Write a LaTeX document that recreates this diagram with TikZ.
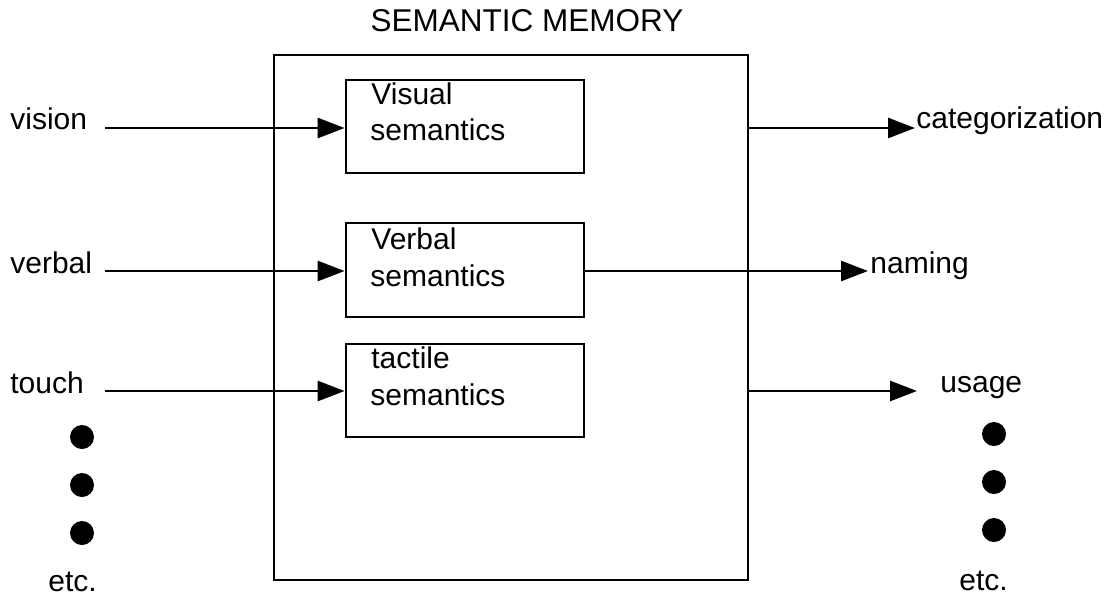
\documentclass[tikz,border=0pt]{standalone}
\usepackage{fontspec}
\setmainfont{Liberation Sans}
\usetikzlibrary{arrows.meta}
\begin{document}
\begin{tikzpicture}[x=1pt,y=-1pt,
  line width=2.8pt,
  txt/.style={inner sep=0pt, anchor=base west, font=\fontsize{30}{36}\selectfont},
  box/.style={draw, rectangle, inner sep=0pt},
  arr/.style={-{Triangle[length=27pt,width=20pt]}},
  dot/.style={circle, fill, inner sep=0pt, minimum size=24pt}]
\useasboundingbox (0,0) rectangle (1112,598);

% outer memory block and its title
\node[box, minimum width=474pt, minimum height=525pt] (mem) at (511,317.5) {};
\node[txt, anchor=base, font=\fontsize{31.5}{36}\selectfont] (title) at (527,31) {SEMANTIC MEMORY};

% the three semantic stores
\node[box, minimum width=238pt, minimum height=93pt] (visual) at (465,126.5) {};
\node[box, minimum width=238pt, minimum height=94pt] (verbalbox) at (465,270) {};
\node[box, minimum width=238pt, minimum height=93pt] (tactile) at (465,390.5) {};

\node[txt] (visualA) at (370,104) {Visual};
\node[txt] (visualB) at (369,140) {semantics};
\node[txt] (verbalA) at (370,249) {Verbal};
\node[txt] (verbalB) at (369,286) {semantics};
\node[txt] (tactileA) at (370,368) {tactile};
\node[txt] (tactileB) at (369,405) {semantics};

% inputs
\node[txt] (vision) at (9,129) {vision};
\node[txt] (verbal) at (9,273) {verbal};
\node[txt] (touch) at (9,393) {touch};
\node[txt] (etcL) at (47,591) {etc.};
\coordinate (inV) at (105,128);
\coordinate (inW) at (105,271);
\coordinate (inT) at (105,391);
\draw[arr] (inV) -- (inV -| visual.west);
\draw[arr] (inW) -- (inW -| verbalbox.west);
\draw[arr] (inT) -- (inT -| tactile.west);
\node[dot] (dl1) at (82,437) {};
\node[dot] (dl2) at (82,485) {};
\node[dot] (dl3) at (82,533) {};

% outputs
\coordinate (outC) at (915,128);
\coordinate (outN) at (868,271);
\coordinate (outU) at (917,391);
\draw[arr] (outC -| mem.east) -- (outC);
\draw[arr] (outN -| verbalbox.east) -- (outN);
\draw[arr] (outU -| mem.east) -- (outU);
\node[txt] (categ) at (915,128) {categorization};
\node[txt] (naming) at (869,273) {naming};
\node[txt] (usage) at (939,392) {usage};
\node[dot] (dr1) at (994,434) {};
\node[dot] (dr2) at (994,482) {};
\node[dot] (dr3) at (994,530) {};
\node[txt] (etcR) at (958,590) {etc.};
\end{tikzpicture}
\end{document}
